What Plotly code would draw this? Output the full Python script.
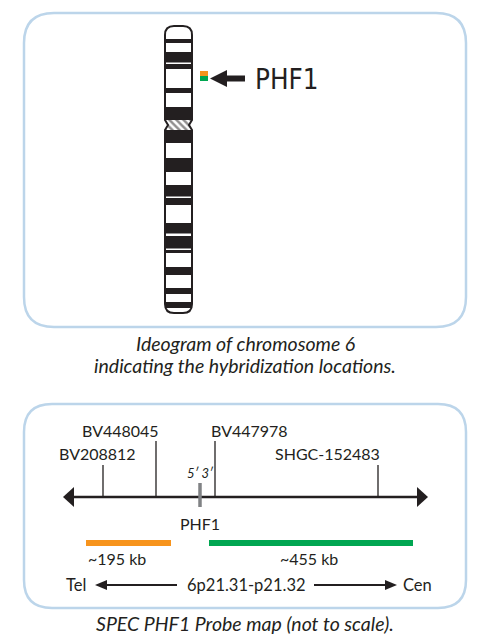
import plotly.graph_objects as go

W, H = 489, 641
PAGE_MARGIN = 8  # browser default body margin

# ---------------- panel frames ----------------
panel_left = [24, 24]
panel_top = [13, 404]
panel_right = [466, 466]
panel_bottom = [327, 608]
panel_radius = [30, 28]
frame_color = "#bcd5ea"

# ---------------- chromosome 6 ideogram ----------------
chrom_left, chrom_right = 165, 192
chrom_top, chrom_bottom = 26, 313
chrom_cap = 9
cen_top, cen_bottom = 120, 130
cen_pinch = 3
band_start = [39, 52, 64, 88, 107, 130, 158, 185, 198, 223, 236, 250, 267, 288, 302]
band_end = [43, 62.5, 69, 93, 120, 143, 172, 196.5, 205, 233.5, 248.5, 253, 275, 294, 308]

# probe signal squares next to the ideogram
signal_colors = ["#f7941d", "#00a651"]
signal_x = [200, 208]
signal_y0 = [71, 76]
signal_y1 = [76, 81]

# pointer arrow + gene label
pointer_tip_x, pointer_head_x, pointer_end_x, pointer_y = 210, 227, 245, 78.5
pointer_head_half, pointer_shaft = 8.5, 6
gene_label = "PHF1"
gene_label_x, gene_label_y = 286.5, 79

# captions
caption1 = ["Ideogram of chromosome 6", "indicating the hybridization locations."]
caption1_y = [343, 365]
caption2 = "SPEC PHF1 Probe map (not to scale)."
caption2_y = 623
caption_x = 245

# ---------------- probe map ----------------
map_y = 497
map_x0, map_x1 = 63, 428
map_head_len, map_head_half = 11, 10
marker_names = ["BV208812", "BV448045", "BV447978", "SHGC-152483"]
marker_x = [103, 156, 215, 378]
marker_top = [465, 441, 441, 465]
marker_label_x = [97, 120, 249, 327]
marker_label_y = [453, 430, 430, 453]

gene_x, gene_y0, gene_y1 = 200, 483, 507
gene_map_label_y = 523
strand_label = "5\u2032 3\u2032"
strand_label_y = 473

probe_colors = ["#f7941d", "#00a651"]
probe_x0 = [86, 209]
probe_x1 = [171, 413]
probe_y = 543
probe_sizes = ["~195 kb", "~455 kb"]
probe_label_x = [117, 309]
probe_label_y = 558

orient_y = 585
orient_labels = ["Tel", "6p21.31-p21.32", "Cen"]
orient_label_x = [76, 246, 417]
left_arrow = [95, 177]   # tip, tail
right_arrow = [314, 397]  # tail, tip
orient_head_len, orient_head_half = 12, 5

text_color = "#231f20"
map_font = "Lato"

# ---------------- helpers ----------------
def rounded_rect(l, t, r, b, rad):
    return (f"M{l+rad},{t} L{r-rad},{t} Q{r},{t} {r},{t+rad} L{r},{b-rad} "
            f"Q{r},{b} {r-rad},{b} L{l+rad},{b} Q{l},{b} {l},{b-rad} "
            f"L{l},{t+rad} Q{l},{t} {l+rad},{t} Z")

def tri(tip_x, base_x, y, half):
    return f"M{tip_x},{y} L{base_x},{y-half} L{base_x},{y+half} Z"

shapes = []
annotations = []

# panel frames
for l, t, r, b, rad in zip(panel_left, panel_top, panel_right, panel_bottom, panel_radius):
    shapes.append(dict(type="path", path=rounded_rect(l, t, r, b, rad),
                       line=dict(color=frame_color, width=2.5), fillcolor="rgba(0,0,0,0)",
                       layer="below"))

# chromosome outline path
cl, cr, ct, cb, cc = chrom_left, chrom_right, chrom_top, chrom_bottom, chrom_cap
cm = (cen_top + cen_bottom) / 2
chrom_path = (f"M{cl},{ct+cc} Q{cl},{ct} {cl+cc},{ct} L{cr-cc},{ct} Q{cr},{ct} {cr},{ct+cc} "
              f"L{cr},{cen_top} L{cr-cen_pinch},{cm} L{cr},{cen_bottom} "
              f"L{cr},{cb-cc} Q{cr},{cb} {cr-cc},{cb} L{cl+cc},{cb} Q{cl},{cb} {cl},{cb-cc} "
              f"L{cl},{cen_bottom} L{cl+cen_pinch},{cm} L{cl},{cen_top} Z")
shapes.append(dict(type="path", path=chrom_path, fillcolor="white",
                   line=dict(width=0), layer="below"))
for y0, y1 in zip(band_start, band_end):
    shapes.append(dict(type="rect", x0=cl, x1=cr, y0=y0, y1=y1, fillcolor=text_color,
                       line=dict(width=0), layer="below"))
shapes.append(dict(type="path", path=chrom_path, fillcolor="rgba(0,0,0,0)",
                   line=dict(color=text_color, width=2), layer="above"))

# signal squares
for c, y0, y1 in zip(signal_colors, signal_y0, signal_y1):
    shapes.append(dict(type="rect", x0=signal_x[0], x1=signal_x[1], y0=y0, y1=y1,
                       fillcolor=c, line=dict(width=0)))

# pointer arrow
shapes.append(dict(type="path", path=tri(pointer_tip_x, pointer_head_x, pointer_y, pointer_head_half),
                   fillcolor=text_color, line=dict(width=0)))
shapes.append(dict(type="rect", x0=pointer_head_x - 1, x1=pointer_end_x,
                   y0=pointer_y - pointer_shaft / 2, y1=pointer_y + pointer_shaft / 2,
                   fillcolor=text_color, line=dict(width=0)))
annotations.append(dict(x=gene_label_x, y=gene_label_y, text=gene_label, showarrow=False,
                        xanchor="center", yanchor="middle",
                        font=dict(family="Liberation Sans Narrow, DejaVu Sans Condensed, Roboto",
                                  size=27.5, color=text_color)))

# captions
for txt, y in zip(caption1, caption1_y):
    annotations.append(dict(x=caption_x, y=y, text=f"<i>{txt}</i>", showarrow=False,
                            xanchor="center", yanchor="middle",
                            font=dict(family=map_font, size=19.5, color=text_color)))
annotations.append(dict(x=caption_x, y=caption2_y, text=f"<i>{caption2}</i>", showarrow=False,
                        xanchor="center", yanchor="middle",
                        font=dict(family=map_font, size=19.5, color=text_color)))

# main map line with arrowheads
shapes.append(dict(type="line", x0=map_x0 + map_head_len - 1, x1=map_x1 - map_head_len + 1,
                   y0=map_y, y1=map_y, line=dict(color=text_color, width=2.5)))
shapes.append(dict(type="path", path=tri(map_x0, map_x0 + map_head_len, map_y, map_head_half),
                   fillcolor=text_color, line=dict(width=0)))
shapes.append(dict(type="path", path=tri(map_x1, map_x1 - map_head_len, map_y, map_head_half),
                   fillcolor=text_color, line=dict(width=0)))

# markers
for name, x, top, lx, ly in zip(marker_names, marker_x, marker_top, marker_label_x, marker_label_y):
    shapes.append(dict(type="line", x0=x, x1=x, y0=top, y1=map_y,
                       line=dict(color=text_color, width=1.3)))
    annotations.append(dict(x=lx, y=ly, text=name, showarrow=False, xanchor="center",
                            yanchor="middle", font=dict(family=map_font, size=16, color=text_color)))

# gene mark
shapes.append(dict(type="line", x0=gene_x, x1=gene_x, y0=gene_y0, y1=gene_y1,
                   line=dict(color="#808285", width=3.5)))
annotations.append(dict(x=gene_x, y=strand_label_y, text=f"<i>{strand_label}</i>", showarrow=False,
                        xanchor="center", yanchor="middle",
                        font=dict(family=map_font, size=13, color=text_color)))
annotations.append(dict(x=gene_x, y=gene_map_label_y, text=gene_label, showarrow=False,
                        xanchor="center", yanchor="middle",
                        font=dict(family=map_font, size=16, color=text_color)))

# probes
for c, x0, x1, lab, lx in zip(probe_colors, probe_x0, probe_x1, probe_sizes, probe_label_x):
    shapes.append(dict(type="line", x0=x0, x1=x1, y0=probe_y, y1=probe_y,
                       line=dict(color=c, width=6)))
    annotations.append(dict(x=lx, y=probe_label_y, text=lab, showarrow=False, xanchor="center",
                            yanchor="middle", font=dict(family=map_font, size=16, color=text_color)))

# orientation row
for lab, lx in zip(orient_labels, orient_label_x):
    annotations.append(dict(x=lx, y=orient_y, text=lab, showarrow=False, xanchor="center",
                            yanchor="middle", font=dict(family=map_font, size=16.5, color=text_color)))
shapes.append(dict(type="line", x0=left_arrow[0] + orient_head_len - 1, x1=left_arrow[1],
                   y0=orient_y, y1=orient_y, line=dict(color=text_color, width=2)))
shapes.append(dict(type="path", path=tri(left_arrow[0], left_arrow[0] + orient_head_len, orient_y, orient_head_half),
                   fillcolor=text_color, line=dict(width=0)))
shapes.append(dict(type="line", x0=right_arrow[0], x1=right_arrow[1] - orient_head_len + 1,
                   y0=orient_y, y1=orient_y, line=dict(color=text_color, width=2)))
shapes.append(dict(type="path", path=tri(right_arrow[1], right_arrow[1] - orient_head_len, orient_y, orient_head_half),
                   fillcolor=text_color, line=dict(width=0)))

fig = go.Figure()

# hatched centromere
hx = [cl, cr, cr - cen_pinch, cr, cl, cl + cen_pinch, cl]
hy = [cen_top, cen_top, cm, cen_bottom, cen_bottom, cm, cen_top]
fig.add_trace(go.Scatter(x=hx, y=hy, mode="lines", fill="toself", line=dict(width=0),
                         fillcolor="white",
                         fillpattern=dict(shape="\\", fgcolor=text_color, bgcolor="white",
                                          size=5, solidity=0.5),
                         hoverinfo="skip", showlegend=False))

fig.update_layout(
    width=W - PAGE_MARGIN, height=H - PAGE_MARGIN, autosize=False,
    margin=dict(l=0, r=0, t=0, b=0),
    paper_bgcolor="white", plot_bgcolor="white",
    xaxis=dict(range=[PAGE_MARGIN, W], visible=False, fixedrange=True),
    yaxis=dict(range=[H, PAGE_MARGIN], visible=False, fixedrange=True),
    shapes=shapes, annotations=annotations, showlegend=False,
)

fig.write_html("out.html")
